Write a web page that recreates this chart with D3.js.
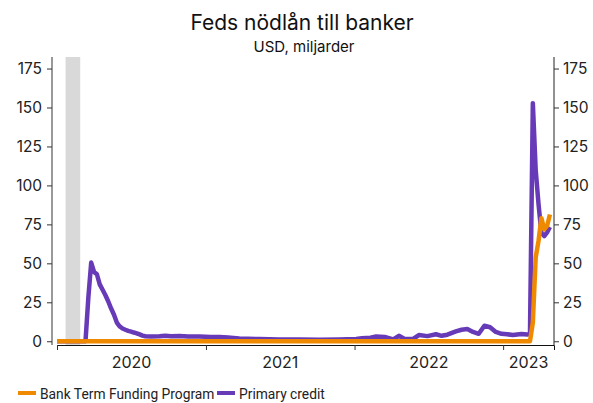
<!DOCTYPE html>
<html>
<head>
<meta charset="utf-8">
<script src="https://cdn.jsdelivr.net/npm/d3@7"></script>
<style>
  body { margin: 0; background: #fff; }
  svg { display: block; font-family: Inter, "Noto Sans", sans-serif; }
</style>
</head>
<body>
<div id="viz"></div>
<script>
// size of the picture
let w = 593;
let h = 403;

// DATA (USD, miljarder)
let seriesNames = ["Bank Term Funding Program", "Primary credit"];
let seriesColors = ["#ef8a00", "#673ab7"];

let primaryDates = [
  "2020-01-01","2020-03-11","2020-03-18","2020-03-25","2020-04-01","2020-04-08","2020-04-15",
  "2020-04-22","2020-04-29","2020-05-06","2020-05-13","2020-05-20","2020-05-27","2020-06-03",
  "2020-06-10","2020-06-17","2020-06-24","2020-07-01","2020-07-08","2020-07-15","2020-07-22",
  "2020-07-29","2020-08-05","2020-08-19","2020-09-09","2020-09-23","2020-10-07","2020-10-28",
  "2020-11-18","2020-12-16","2021-01-13","2021-02-03","2021-02-24","2021-03-24","2021-05-12",
  "2021-06-30","2021-08-18","2021-10-06","2021-11-24","2022-01-05","2022-01-19","2022-02-09",
  "2022-02-23","2022-03-16","2022-04-06","2022-04-20","2022-05-04","2022-05-25","2022-06-08",
  "2022-06-29","2022-07-20","2022-08-03","2022-08-17","2022-09-07","2022-09-21","2022-10-05",
  "2022-10-19","2022-11-02","2022-11-16","2022-11-30","2022-12-14","2022-12-28","2023-01-11",
  "2023-01-25","2023-02-15","2023-03-01","2023-03-08","2023-03-15","2023-03-22","2023-03-29",
  "2023-04-05","2023-04-12","2023-04-19","2023-04-26"
];
let primaryValues = [
  0.0, 0.0, 28.0, 50.5, 44.5, 43.0, 36.5,
  33.0, 29.5, 25.5, 21.0, 17.0, 12.0, 9.5,
  8.2, 7.4, 6.7, 6.2, 5.6, 5.1, 4.4,
  3.6, 3.2, 3.0, 3.2, 3.6, 3.2, 3.3,
  3.0, 3.0, 2.8, 2.8, 2.4, 1.8, 1.4,
  1.2, 1.2, 1.0, 1.2, 1.5, 2.0, 2.3,
  3.0, 2.8, 1.2, 3.5, 1.5, 1.5, 4.0,
  3.3, 4.5, 3.5, 4.2, 6.3, 7.4, 7.8,
  6.0, 4.8, 10.0, 9.0, 6.0, 4.8, 4.5,
  4.0, 4.6, 4.4, 4.6, 152.8, 110.0, 88.0,
  69.5, 67.5, 69.9, 73.3
];

let btfpDates = [
  "2020-01-01","2023-03-08","2023-03-15","2023-03-22","2023-03-29",
  "2023-04-05","2023-04-12","2023-04-19","2023-04-26"
];
let btfpValues = [0, 0, 11.9, 53.7, 64.4, 79.0, 71.8, 74.0, 81.3];

// recession band
let bandStart = "2020-01-22";
let bandEnd = "2020-02-27";

let yTicks = [0, 25, 50, 75, 100, 125, 150, 175];
let yearLabels = ["2020", "2021", "2022", "2023"];

let parse = d3.utcParse("%Y-%m-%d");

let primary = primaryDates.map(function(d, i){ return {date: parse(d), value: primaryValues[i]}; });
let btfp = btfpDates.map(function(d, i){ return {date: parse(d), value: btfpValues[i]}; });

let viz = d3.select("#viz")
  .append("svg")
    .attr("width", w)
    .attr("height", h)
;

// SCALES
let xStart = parse("2020-01-01");
let xEnd = parse("2023-05-06");
let xScale = d3.scaleUtc().domain([xStart, xEnd]).range([57, 554]);
let yScale = d3.scaleLinear().domain([-2.4, 182.4]).range([345, 57]);

// title
viz.append("text")
  .attr("x", 302).attr("y", 30)
  .attr("text-anchor", "middle")
  .style("font-size", "21px")
  .attr("fill", "#111")
  .text("Feds nödlån till banker");

viz.append("text")
  .attr("x", 304).attr("y", 52)
  .attr("text-anchor", "middle")
  .style("font-size", "15px")
  .attr("fill", "#111")
  .text("USD, miljarder");

// grey band
viz.append("rect")
  .attr("x", xScale(parse(bandStart)))
  .attr("y", yScale(182.4))
  .attr("width", xScale(parse(bandEnd)) - xScale(parse(bandStart)))
  .attr("height", yScale(-2.4) - yScale(182.4))
  .attr("fill", "#d9d9d9");

// y axes
let leftAxis = d3.axisLeft(yScale).tickValues(yTicks).tickSize(5).tickPadding(5);
let rightAxis = d3.axisRight(yScale).tickValues(yTicks).tickSize(5).tickPadding(4);

let gl = viz.append("g").attr("transform", "translate(52,0)").call(leftAxis);
let gr = viz.append("g").attr("transform", "translate(554,0)").call(rightAxis);
[gl, gr].forEach(function(g){
  g.attr("font-family", null).attr("font-size", null);
  g.selectAll("text").style("font-size", "15.5px").attr("fill", "#222");
  g.selectAll("line").attr("stroke", "#333");
});
gl.select(".domain").attr("stroke", "#777").attr("stroke-width", 1.5).attr("d", "M0," + yScale(182.4) + "V" + yScale(-2.4));
gr.select(".domain").attr("stroke", "#222").attr("d", "M0," + yScale(182.4) + "V" + yScale(-2.4));

// x axis: ticks at year starts, labels in the middle of each year
let yearStarts = yearLabels.map(function(y){ return parse(y + "-01-01"); });
let xAxis = d3.axisBottom(xScale).tickValues(yearStarts).tickSize(5).tickFormat("");
let gx = viz.append("g").attr("transform", "translate(0,345)").call(xAxis);
gx.select(".domain").attr("stroke", "#111");
gx.selectAll("line").attr("stroke", "#333");

viz.selectAll(".yearlabel").data(yearLabels).enter()
  .append("text")
    .attr("class", "yearlabel")
    .attr("x", function(d){
      let a = parse(d + "-01-01");
      let b = d3.min([parse((+d + 1) + "-01-01"), xEnd]);
      return (xScale(a) + xScale(b)) / 2;
    })
    .attr("y", 368)
    .attr("text-anchor", "middle")
    .style("font-size", "16px")
    .attr("fill", "#222")
    .text(function(d){ return d; });

// LINES
let lineMaker = d3.line()
  .x(function(d){ return xScale(d.date); })
  .y(function(d){ return yScale(d.value); });

viz.append("path")
  .datum(primary)
  .attr("d", lineMaker)
  .attr("fill", "none")
  .attr("stroke", seriesColors[1])
  .attr("stroke-width", 4.5)
  .attr("stroke-linejoin", "round");

viz.append("path")
  .datum(btfp)
  .attr("d", lineMaker)
  .attr("fill", "none")
  .attr("stroke", seriesColors[0])
  .attr("stroke-width", 4.5)
  .attr("stroke-linejoin", "round");

// LEGEND
let legendX = [18, 217];
let legend = viz.selectAll(".legend").data(seriesNames).enter()
  .append("g")
    .attr("class", "legend")
    .attr("transform", function(d, i){ return "translate(" + legendX[i] + ",0)"; });

legend.append("rect")
  .attr("x", 0).attr("y", 391)
  .attr("width", 18).attr("height", 4)
  .attr("fill", function(d, i){ return seriesColors[i]; });

legend.append("text")
  .attr("x", 22).attr("y", 399)
  .style("font-size", "13.8px")
  .style("font-family", "Roboto, sans-serif")
  .attr("fill", "#222")
  .text(function(d){ return d; });
</script>
</body>
</html>
